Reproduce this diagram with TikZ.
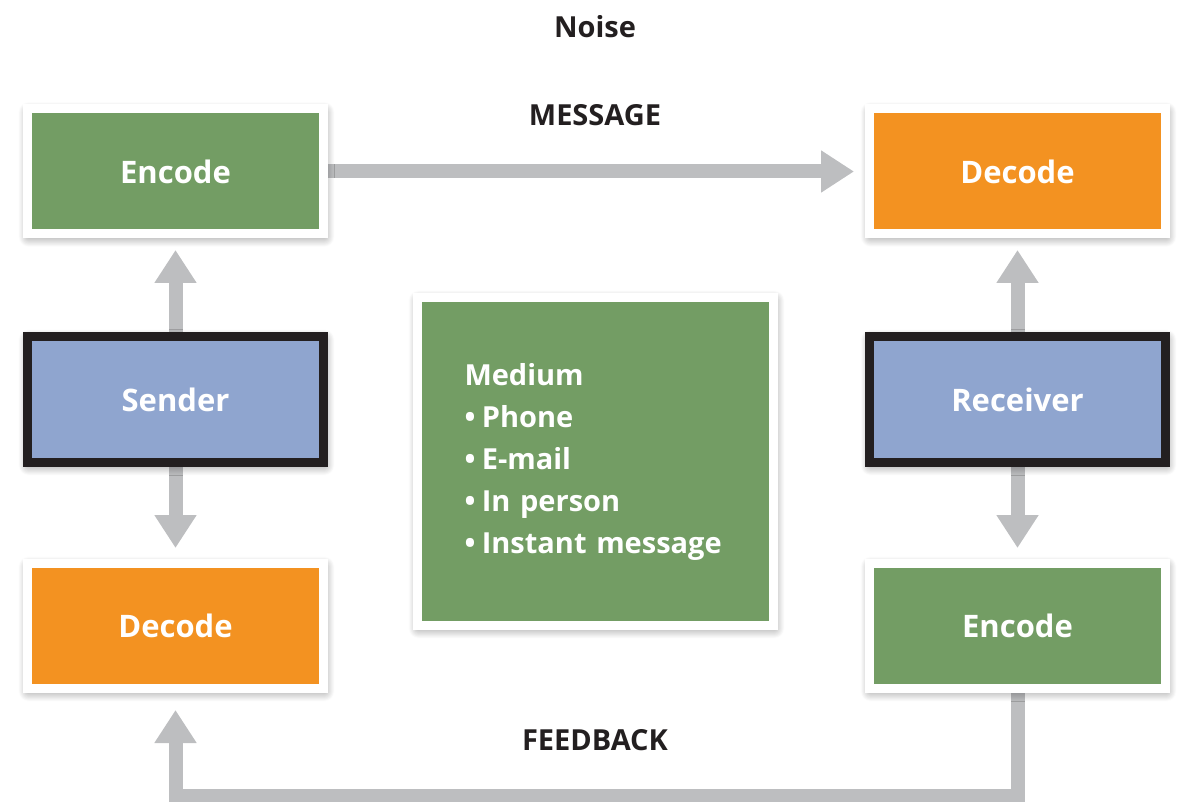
\documentclass[tikz,border=0pt]{standalone}
\usepackage{fontspec}
\setmainfont{Open Sans}
\usetikzlibrary{arrows.meta,shadows.blur,calc}
\definecolor{boxgreen}{HTML}{739D64}
\definecolor{boxorange}{HTML}{F39221}
\definecolor{boxblue}{HTML}{8FA5CF}
\definecolor{flowgray}{HTML}{BDBEC0}
\definecolor{frameblack}{HTML}{231F20}
\definecolor{labelgray}{HTML}{231F20}
\newcommand{\listdot}{\textbullet\hspace{0.22em}}
\tikzset{
  stagebox/.style={rectangle, minimum width=296pt, minimum height=125pt,
    draw=white, line width=9pt, text=white,
    font=\bfseries\fontsize{31}{36}\selectfont,
    blur shadow={shadow xshift=1pt, shadow yshift=-3pt, shadow blur radius=10pt,
      shadow blur steps=14, shadow opacity=50}},
  encodebox/.style={stagebox, fill=boxgreen},
  decodebox/.style={stagebox, fill=boxorange},
  partybox/.style={stagebox, fill=boxblue, draw=frameblack, minimum height=126pt},
  mediumbox/.style={stagebox, fill=boxgreen, minimum width=356pt, minimum height=328pt,
    text width=262pt, inner xsep=47pt, align=left,
    font=\bfseries\fontsize{29}{42}\selectfont},
  flow/.style={draw=flowgray, line width=14pt,
    -{Triangle[width=40pt,length=33pt]}},
  heading/.style={text=labelgray, font=\bfseries\fontsize{29}{34}\selectfont}
}
\begin{document}
\begin{tikzpicture}[x=1pt,y=-1pt]
  \useasboundingbox (0,0) rectangle (1178,802);

  % positions of the stages
  \coordinate (pEncL) at (175.5,171.5);
  \coordinate (pSend) at (175.5,399.5);
  \coordinate (pDecL) at (175.5,626);
  \coordinate (pDecR) at (1017.5,171.5);
  \coordinate (pRecv) at (1017.5,399.5);
  \coordinate (pEncR) at (1017.5,626);

  % connectors first, so the boxes sit on top of them
  \path (pEncL) ++(148,0) coordinate (msgStart);
  \path (pDecR) ++(-163.5,0) coordinate (msgEnd);
  \draw[flow] (msgStart) -- (msgEnd);

  \path (pSend) ++(0,-63) coordinate (sUp);
  \path (pEncL) ++(0,78.5) coordinate (sUpEnd);
  \draw[flow] (sUp) -- (sUpEnd);
  \path (pSend) ++(0,63) coordinate (sDown);
  \path (pDecL) ++(0,-78) coordinate (sDownEnd);
  \draw[flow] (sDown) -- (sDownEnd);

  \path (pRecv) ++(0,-63) coordinate (rUp);
  \path (pDecR) ++(0,78.5) coordinate (rUpEnd);
  \draw[flow] (rUp) -- (rUpEnd);
  \path (pRecv) ++(0,63) coordinate (rDown);
  \path (pEncR) ++(0,-78) coordinate (rDownEnd);
  \draw[flow] (rDown) -- (rDownEnd);

  \path (pEncR) ++(0,62) coordinate (fbStart);
  \coordinate (fbCornerR) at (1017.5,796);
  \coordinate (fbCornerL) at (175.5,796);
  \path (pDecL) ++(0,84) coordinate (fbEnd);
  \draw[flow] (fbStart) -- (fbCornerR) -- (fbCornerL) -- (fbEnd);

  % stages
  \node[encodebox] (encL) at (pEncL) {Encode};
  \node[partybox]  (send) at (pSend) {Sender};
  \node[decodebox] (decL) at (pDecL) {Decode};
  \node[decodebox] (decR) at (pDecR) {Decode};
  \node[partybox]  (recv) at (pRecv) {Receiver};
  \node[encodebox] (encR) at (pEncR) {Encode};

  \node[mediumbox] (medium) at (595.5,461.5)
    {Medium\\ \listdot Phone\\ \listdot E-mail\\ \listdot In person\\ \listdot Instant message};

  % labels
  \node[heading] (noise) at (595,27) {Noise};
  \node[heading] (message) at (595,115) {MESSAGE};
  \node[heading] (feedback) at (595,740) {FEEDBACK};
\end{tikzpicture}
\end{document}
